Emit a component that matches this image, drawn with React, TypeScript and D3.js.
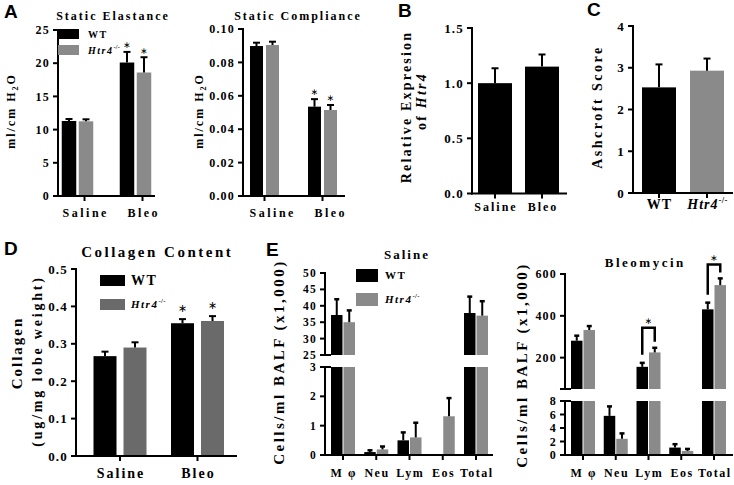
import React from "react";
import * as d3 from "d3";

const SERIF = "'Liberation Serif', 'Times New Roman', serif";
const SANS = "'Liberation Sans', Arial, sans-serif";
const BLACK = "#000000";
const GRAY = "#8a8a8a";
const DARK_GRAY = "#6a6a6a";

// ---------- data ----------
const treatments = ["Saline", "Bleo"];
const genotypes = ["WT", "Htr4-/-"];

// A - lung mechanics
const elastanceWT = [11.3, 20.1];
const elastanceWTErr = [0.3, 1.6];
const elastanceKO = [11.25, 18.6];
const elastanceKOErr = [0.3, 2.3];
const elastanceStars = [false, true];
const elastanceTicks = [0, 5, 10, 15, 20, 25];

const complianceWT = [0.0898, 0.0535];
const complianceWTErr = [0.002, 0.0045];
const complianceKO = [0.0904, 0.0515];
const complianceKOErr = [0.002, 0.003];
const complianceStars = [false, true];
const complianceTicks = [0, 0.02, 0.04, 0.06, 0.08, 0.1];

// B - Htr4 expression
const htr4Expr = [1.0, 1.15];
const htr4ExprErr = [0.135, 0.11];
const exprTicks = [0, 0.5, 1.0, 1.5];

// C - Ashcroft score
const ashcroft = [2.53, 2.93];
const ashcroftErr = [0.55, 0.29];
const ashcroftTicks = [0, 1, 2, 3, 4];

// D - collagen
const collagenWT = [0.267, 0.355];
const collagenWTErr = [0.012, 0.011];
const collagenKO = [0.29, 0.361];
const collagenKOErr = [0.014, 0.013];
const collagenStars = [false, true];
const collagenTicks = [0, 0.1, 0.2, 0.3, 0.4, 0.5];

// E - BALF cells
const cellTypes = ["M φ", "Neu", "Lym", "Eos", "Total"];
const salineWT = [37.2, 0.1, 0.5, 0, 37.8];
const salineWTErr = [4.8, 0.06, 0.27, 0, 5.0];
const salineKO = [35.0, 0.19, 0.6, 1.32, 37.0];
const salineKOErr = [3.6, 0.1, 0.5, 0.62, 4.4];
const salineUpperTicks = [25, 30, 35, 40, 45, 50];
const salineLowerTicks = [0, 1, 2, 3];

const bleoWT = [281, 5.8, 156, 1.1, 431];
const bleoWTErr = [24, 1.4, 19, 0.5, 32];
const bleoKO = [332, 2.4, 225, 0.6, 547];
const bleoKOErr = [19, 0.8, 22, 0.3, 32];
const bleoUpperTicks = [200, 400, 600];
const bleoLowerTicks = [0, 2, 4, 6, 8];
const bleoSignificant = ["Lym", "Total"];

// ---------- helpers ----------
const KoText = ({ fs }: { fs: number }) => (
  <>
    <tspan fontStyle="italic">Htr4</tspan>
    <tspan fontSize={fs * 0.62} dy={-fs * 0.45} letterSpacing={0.3}>-/-</tspan>
  </>
);

function YAxis({ x, y, ticks, fmt, top, bottom, fs = 12 }: any) {
  return (
    <g>
      <line x1={x} x2={x} y1={top} y2={bottom} stroke={BLACK} strokeWidth={2} />
      {ticks.map((t: number) => (
        <g key={t}>
          <line x1={x - 5} x2={x} y1={y(t)} y2={y(t)} stroke={BLACK} strokeWidth={2} />
          <text x={x - 8} y={y(t)} dy="0.35em" textAnchor="end" fontSize={fs}
            fontWeight="bold" fontFamily={SERIF} letterSpacing={1.2}>{fmt(t)}</text>
        </g>
      ))}
    </g>
  );
}

function XAxis({ x0, x1, y0, cats, range, tickShift = 0, labelShift = 0, labelY, fs = 12, ls = 2 }: any) {
  const cx = d3.scalePoint<string>().domain(cats).range(range);
  return (
    <g>
      <line x1={x0 - 1} x2={x1} y1={y0} y2={y0} stroke={BLACK} strokeWidth={2} />
      {cats.map((c: string) => (
        <g key={c}>
          <line x1={cx(c)! + tickShift} x2={cx(c)! + tickShift} y1={y0} y2={y0 + 5} stroke={BLACK} strokeWidth={2} />
          <text x={cx(c)! + labelShift + ls / 2} y={labelY} textAnchor="middle" fontSize={fs}
            fontWeight="bold" fontFamily={SERIF} letterSpacing={ls}>
            {c === "Htr4-/-" ? <KoText fs={fs} /> : c}
          </text>
        </g>
      ))}
    </g>
  );
}

// asterisk operator glyph, sits on the math axis so it is lifted a bit
function Star({ x, y, fs = 9 }: any) {
  return (
    <text x={x} y={y - fs * 0.3} textAnchor="middle" fontSize={fs}
      fontFamily="'DejaVu Sans', sans-serif" fill={BLACK}>∗</text>
  );
}

function Bars({ cats, range, series, barW, gap, y, capW = 7, starFs = 9, starLift = 0 }: any) {
  const cx = d3.scalePoint<string>().domain(cats).range(range);
  const n = series.length;
  const y0 = y(0);
  return (
    <g>
      {series.map((s: any, si: number) =>
        cats.map((c: string, ci: number) => {
          const mid = cx(c)! + (si - (n - 1) / 2) * (barW + gap);
          const top = y(s.values[ci]);
          const et = y(s.values[ci] + s.errs[ci]);
          const fill = Array.isArray(s.color) ? s.color[ci] : s.color;
          return (
            <g key={si + "-" + ci}>
              <rect x={mid - barW / 2} y={top} width={barW} height={y0 - top} fill={fill} />
              <line x1={mid} x2={mid} y1={top} y2={et} stroke={BLACK} strokeWidth={2} />
              <line x1={mid - capW / 2} x2={mid + capW / 2} y1={et} y2={et} stroke={BLACK} strokeWidth={2} />
              {s.stars && s.stars[ci] && <Star x={mid} y={et - starLift} fs={starFs} />}
            </g>
          );
        })
      )}
    </g>
  );
}

function Legend({ x, y, w, h, dy, colors, tx, fs, koFs }: any) {
  return (
    <g fontFamily={SERIF} fontWeight="bold">
      {genotypes.map((g, i) => (
        <g key={g}>
          <rect x={x} y={y + i * dy} width={w} height={h} fill={colors[i]} />
          <text x={tx} y={y + i * dy + h / 2} dy="0.35em" fontSize={i === 0 ? fs : koFs} letterSpacing={1.5}>
            {i === 0 ? g : <KoText fs={koFs} />}
          </text>
        </g>
      ))}
    </g>
  );
}

function YLabel({ x, y, fs = 12, ls = 1.5, children }: any) {
  return (
    <text transform={`translate(${x},${y}) rotate(-90)`} textAnchor="middle" dy="0.35em"
      fontSize={fs} fontWeight="bold" fontFamily={SERIF} letterSpacing={ls}>{children}</text>
  );
}

function Title({ x, y, fs = 12, ls = 1.5, children }: any) {
  return (
    <text x={x + ls / 2} y={y} textAnchor="middle" fontSize={fs} fontWeight="bold" fontFamily={SERIF}
      letterSpacing={ls}>{children}</text>
  );
}

function PanelLetter({ x, y, children }: any) {
  return <text x={x} y={y} fontSize={19} fontWeight="bold" fontFamily={SANS}>{children}</text>;
}

function BrokenBars({ cats, range, wt, wtErr, ko, koErr, yUp, yLo, loMax, upMin, barW, gap, brackets = [] }: any) {
  const cx = d3.scalePoint<string>().domain(cats).range(range);
  const series = [
    { v: wt, e: wtErr, color: BLACK },
    { v: ko, e: koErr, color: GRAY },
  ];
  const y0 = yLo(0);
  const yOf = (v: number) => (v > loMax ? yUp(v) : yLo(v));
  return (
    <g>
      {series.map((s, si) =>
        cats.map((c: string, ci: number) => {
          const mid = cx(c)! + (si - 0.5) * (barW + gap);
          const v = s.v[ci];
          if (v <= 0) return null;
          const et = yOf(v + s.e[ci]);
          const top = yOf(v);
          return (
            <g key={si + c}>
              {v > loMax ? (
                <>
                  <rect x={mid - barW / 2} y={yLo(loMax)} width={barW} height={y0 - yLo(loMax)} fill={s.color} />
                  <rect x={mid - barW / 2} y={top} width={barW} height={yUp(upMin) - top} fill={s.color} />
                </>
              ) : (
                <rect x={mid - barW / 2} y={top} width={barW} height={y0 - top} fill={s.color} />
              )}
              <line x1={mid} x2={mid} y1={top} y2={et} stroke={BLACK} strokeWidth={2} />
              <line x1={mid - 2.5} x2={mid + 2.5} y1={et} y2={et} stroke={BLACK} strokeWidth={2.5} />
            </g>
          );
        })
      )}
      {brackets.map((b: any) => {
        const ci = cats.indexOf(b.cat);
        const a = cx(b.cat)! - 0.5 * (barW + gap);
        const z = cx(b.cat)! + 0.5 * (barW + gap);
        const ea = yUp(wt[ci] + wtErr[ci]);
        const ez = yUp(ko[ci] + koErr[ci]);
        const top = Math.min(ea, ez) - b.lift;
        return (
          <g key={b.cat}>
            <path d={`M${a},${ea - 8}V${top}H${z}V${ez - 6}`} fill="none" stroke={BLACK} strokeWidth={2.5} />
            <Star x={(a + z) / 2} y={top - 1} fs={9} />
          </g>
        );
      })}
    </g>
  );
}

function BreakMark({ x, y }: any) {
  return <line x1={x - 5} x2={x + 6} y1={y} y2={y} stroke={BLACK} strokeWidth={2} />;
}

// ---------- app ----------
export default function App() {
  const fInt = d3.format("d");
  const f1 = d3.format(".1f");
  const f2 = d3.format(".2f");

  // A1
  const yEl = d3.scaleLinear().domain([0, 25]).range([196, 30]);
  // A2
  const yCo = d3.scaleLinear().domain([0, 0.1]).range([196, 29]);
  // B
  const yEx = d3.scaleLinear().domain([0, 1.5]).range([193.5, 28]);
  // C
  const yAs = d3.scaleLinear().domain([0, 4]).range([193, 26]);
  // D
  const yCol = d3.scaleLinear().domain([0, 0.5]).range([456, 269]);
  // E saline
  const ySalUp = d3.scaleLinear().domain([25, 50]).range([355, 273]);
  const ySalLo = d3.scaleLinear().domain([0, 3]).range([455, 367]);
  // E bleomycin
  const yBleUp = d3.scaleLinear().domain([50, 600]).range([389, 274]);
  const yBleLo = d3.scaleLinear().domain([0, 8]).range([455, 401]);

  const h2o = (
    <>ml/cm H<tspan fontSize={8} dy={3}>2</tspan><tspan dy={-3}>O</tspan></>
  );

  return (
    <div>
      <style>{"body{margin:0;background:#fff}"}</style>
      <svg width={734} height={485} style={{ display: "block", background: "#fff" }}>
        {/* ---------- A: Static Elastance ---------- */}
        <PanelLetter x={4} y={18}>A</PanelLetter>
        <Title x={112} y={20} ls={2}>Static Elastance</Title>
        <YLabel x={11} y={111} fs={12} ls={2}>{h2o}</YLabel>
        <Bars cats={treatments} range={[77.5, 135.5]} barW={14.5} gap={2.5} y={yEl} starLift={1}
          series={[
            { values: elastanceWT, errs: elastanceWTErr, color: BLACK, stars: elastanceStars },
            { values: elastanceKO, errs: elastanceKOErr, color: GRAY, stars: elastanceStars },
          ]} />
        <YAxis x={58} y={yEl} ticks={elastanceTicks} fmt={fInt} top={29} bottom={197} />
        <XAxis x0={58} x1={155} y0={196} cats={treatments} range={[77.5, 135.5]} tickShift={7} labelShift={7} labelY={217} ls={2.5} />
        <Legend x={58} y={29} w={21} h={10} dy={16} colors={[BLACK, GRAY]} tx={88} fs={10} koFs={10} />

        {/* ---------- A: Static Compliance ---------- */}
        <Title x={297} y={20} ls={2}>Static Compliance</Title>
        <YLabel x={199} y={111} fs={12} ls={2}>{h2o}</YLabel>
        <Bars cats={treatments} range={[264.5, 322.5]} barW={13} gap={3} y={yCo} starLift={1}
          series={[
            { values: complianceWT, errs: complianceWTErr, color: BLACK, stars: complianceStars },
            { values: complianceKO, errs: complianceKOErr, color: GRAY, stars: complianceStars },
          ]} />
        <YAxis x={243} y={yCo} ticks={complianceTicks} fmt={f2} top={28} bottom={197} />
        <XAxis x0={243} x1={345} y0={196} cats={treatments} range={[264.5, 322.5]} labelShift={7} labelY={217} ls={2.5} />

        {/* ---------- B ---------- */}
        <PanelLetter x={398} y={17}>B</PanelLetter>
        <YLabel x={406} y={107} fs={14} ls={2.2}>Relative Expresion</YLabel>
        <YLabel x={421} y={101} fs={14} ls={2.2}>of <tspan fontStyle="italic">Htr4</tspan></YLabel>
        <Bars cats={treatments} range={[495, 542]} barW={34} gap={0} y={yEx}
          series={[{ values: htr4Expr, errs: htr4ExprErr, color: BLACK }]} />
        <YAxis x={472} y={yEx} ticks={exprTicks} fmt={f1} top={27} bottom={194.5} fs={13} />
        <XAxis x0={472} x1={567} y0={193.5} cats={treatments} range={[495, 542]} labelY={211} ls={2} />

        {/* ---------- C ---------- */}
        <PanelLetter x={587} y={16}>C</PanelLetter>
        <YLabel x={597} y={107} fs={14} ls={2.5}>Ashcroft Score</YLabel>
        <Bars cats={genotypes} range={[659, 707]} barW={34} gap={0} y={yAs}
          series={[{ values: ashcroft, errs: ashcroftErr, color: [BLACK, GRAY] }]} />
        <YAxis x={633} y={yAs} ticks={ashcroftTicks} fmt={fInt} top={25} bottom={194} fs={13} />
        <XAxis x0={633} x1={733} y0={193} cats={genotypes} range={[659, 707]} labelY={209} fs={14} ls={1} />

        {/* ---------- D ---------- */}
        <PanelLetter x={4} y={255}>D</PanelLetter>
        <Title x={156} y={257} fs={15} ls={2.5}>Collagen Content</Title>
        <YLabel x={17} y={353} fs={15} ls={2}>Collagen</YLabel>
        <YLabel x={37} y={361} fs={14} ls={2.8}>(ug/mg lobe weight)</YLabel>
        <Bars cats={treatments} range={[120, 197.5]} barW={23} gap={7} y={yCol} starFs={11} starLift={4}
          series={[
            { values: collagenWT, errs: collagenWTErr, color: BLACK, stars: collagenStars },
            { values: collagenKO, errs: collagenKOErr, color: DARK_GRAY, stars: collagenStars },
          ]} />
        <YAxis x={76} y={yCol} ticks={collagenTicks} fmt={f1} top={268} bottom={457} fs={13} />
        <XAxis x0={76} x1={237} y0={456} cats={treatments} range={[120, 197.5]} labelY={478} fs={14} />
        <Legend x={100} y={275} w={25} h={11} dy={24} colors={[BLACK, DARK_GRAY]} tx={131} fs={14} koFs={11} />

        {/* ---------- E: Saline ---------- */}
        <PanelLetter x={266} y={256}>E</PanelLetter>
        <Title x={406} y={259} fs={13} ls={2}>Saline</Title>
        <YLabel x={279} y={362} fs={15} ls={2.5}>Cells/ml BALF (x1,000)</YLabel>
        <BrokenBars cats={cellTypes} range={[343, 476]} wt={salineWT} wtErr={salineWTErr} ko={salineKO} koErr={salineKOErr}
          yUp={ySalUp} yLo={ySalLo} loMax={3} upMin={25} barW={11.5} gap={1} />
        <YAxis x={325} y={ySalUp} ticks={salineUpperTicks} fmt={fInt} top={272} bottom={355} fs={11.5} />
        <YAxis x={325} y={ySalLo} ticks={salineLowerTicks} fmt={fInt} top={367} bottom={456} fs={11.5} />
        <BreakMark x={325} y={355} />
        <BreakMark x={325} y={367} />
        <XAxis x0={325} x1={493} y0={455} cats={cellTypes} range={[343, 476]} labelY={477} fs={12} ls={1.5} />
        <Legend x={356} y={269} w={22} h={13} dy={24} colors={[BLACK, GRAY]} tx={385} fs={11} koFs={11} />

        {/* ---------- E: Bleomycin ---------- */}
        <Title x={644} y={267} fs={13} ls={2.5}>Bleomycin</Title>
        <YLabel x={522} y={365} fs={15} ls={2.5}>Cells/ml BALF (x1,000)</YLabel>
        <BrokenBars cats={cellTypes} range={[583, 714]} wt={bleoWT} wtErr={bleoWTErr} ko={bleoKO} koErr={bleoKOErr}
          yUp={yBleUp} yLo={yBleLo} loMax={8} upMin={50} barW={11.5} gap={1}
          brackets={bleoSignificant.map((c, i) => ({ cat: c, lift: i === 0 ? 20 : 14 }))} />
        <YAxis x={565} y={yBleUp} ticks={bleoUpperTicks} fmt={fInt} top={273} bottom={389} fs={12} />
        <YAxis x={565} y={yBleLo} ticks={bleoLowerTicks} fmt={fInt} top={401} bottom={456} fs={12} />
        <BreakMark x={565} y={389} />
        <BreakMark x={565} y={401} />
        <XAxis x0={565} x1={733} y0={455} cats={cellTypes} range={[583, 714]} labelY={477} fs={12} ls={1.5} />
      </svg>
    </div>
  );
}
